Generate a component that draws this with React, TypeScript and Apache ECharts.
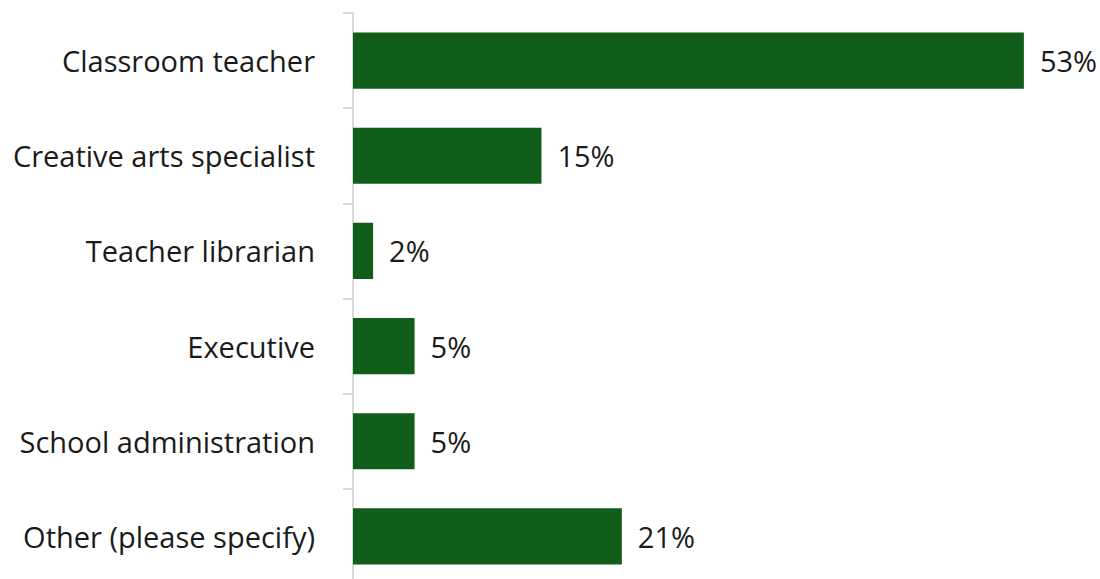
import React, { useEffect, useRef } from "react";
import * as echarts from "echarts";

const categories = [
  "Classroom teacher",
  "Creative arts specialist",
  "Teacher librarian",
  "Executive",
  "School administration",
  "Other (please specify)",
];
const values = [53.4, 15.0, 1.6, 4.9, 4.9, 21.4];

export default function App() {
  const ref = useRef<HTMLDivElement>(null);
  useEffect(() => {
    if (!ref.current) return;
    const chart = echarts.init(ref.current, null, { renderer: "svg" });
    chart.setOption({
      animation: false,
      grid: { left: 353, top: 13, height: 571, width: 691, containLabel: false },
      xAxis: {
        type: "value",
        min: 0,
        max: 55,
        show: false,
      },
      yAxis: {
        type: "category",
        data: categories,
        inverse: true,
        axisLine: { show: true, lineStyle: { color: "#d9d9d9", width: 2 } },
        axisTick: { show: true, length: 10, lineStyle: { color: "#d9d9d9", width: 2 } },
        axisLabel: {
          fontFamily: "Open Sans",
          fontSize: 29,
          color: "#1a1a1a",
          margin: 38,
          padding: [0, 0, 3, 0],
        },
      },
      series: [
        {
          type: "bar",
          data: values,
          barWidth: "59%",
          itemStyle: { color: "#115E1B" },
          label: {
            show: true,
            position: "right",
            distance: 16,
            fontFamily: "Open Sans",
            fontSize: 29,
            color: "#1a1a1a",
            formatter: (p: any) => Math.round(p.value) + "%",
          },
        },
      ],
    });
    return () => chart.dispose();
  }, []);
  return (
    <div style={{ position: "absolute", left: 0, top: 0, width: 1100, height: 579, overflow: "hidden" }}>
      <div ref={ref} style={{ width: 1100, height: 600 }} />
    </div>
  );
}
